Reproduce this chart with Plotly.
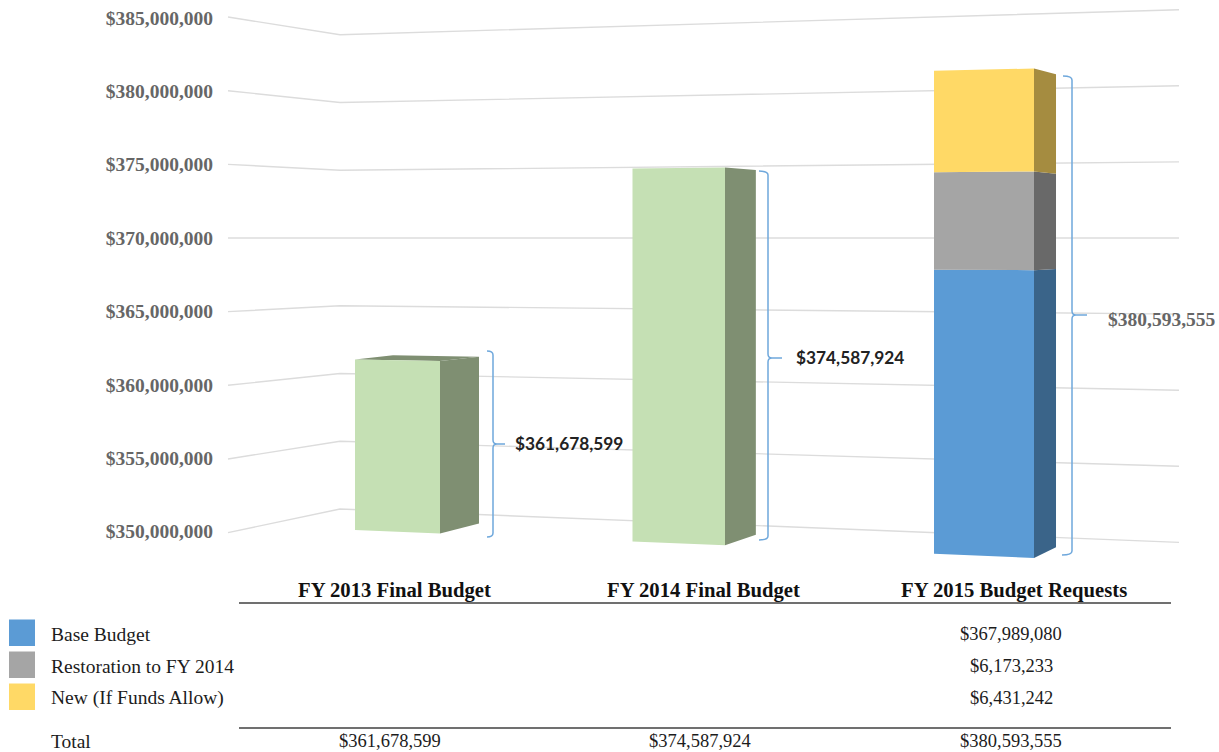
import plotly.graph_objects as go

# ---- data ----
categories = ["FY 2013 Final Budget", "FY 2014 Final Budget", "FY 2015 Budget Requests"]
final_budget = [361678599, 374587924, 0]
base_budget = [0, 0, 367989080]
restoration = [0, 0, 6173233]
new_funds = [0, 0, 6431242]
totals = [361678599, 374587924, 380593555]
series_names = ["Base Budget", "Restoration to FY 2014", "New (If Funds Allow)"]
tick_values = [350000000, 355000000, 360000000, 365000000, 370000000, 375000000, 380000000, 385000000]
axis_floor = 350000000

# ---- pseudo-3D projection: every depth plane scales values about a horizon value ----
HORIZON = 370e6
AXIS_K = 14.67          # px per $1M on the printed axis
W, H = 1219, 752
HORIZON_PX = 238


def to_axis(value, k):
    """Value on the printed axis at which `value` appears in a plane of scale k."""
    return HORIZON + (value - HORIZON) * k / AXIS_K


def k_bar(x, depth=0.0):
    return 14.6 + 0.00206 * (x - 355) - 0.585 * depth


def back_shift(x):
    return 39 - (x - 440) * 0.0286


WALL_X = [228, 340, 1179]
WALL_K = [14.73, 13.55, 15.22]
bar_edges = [(355, 440), (632.5, 725), (934, 1034)]

GREEN = ("#C5E0B4", "#7F8F72")
BLUE = ("#5B9BD5", "#3A6489")
GREY = ("#A5A5A5", "#696969")
YELLOW = ("#FFD966", "#A58C40")

fig = go.Figure()

# wall gridlines
for v in tick_values:
    fig.add_trace(go.Scatter(
        x=WALL_X, y=[to_axis(v, k) for k in WALL_K], mode="lines",
        line=dict(color="#DCDCDC", width=1.4), showlegend=False, hoverinfo="skip", yaxis="y"))


def add_segment(i, low, high, colors, name, amount):
    xl, xr = bar_edges[i]
    xb = xr + back_shift(xr)
    # side face
    fig.add_trace(go.Scatter(
        x=[xr, xb, xb, xr, xr],
        y=[to_axis(high, k_bar(xr)), to_axis(high, k_bar(xb, 1)), to_axis(low, k_bar(xb, 1)),
           to_axis(low, k_bar(xr)), to_axis(high, k_bar(xr))],
        mode="lines", fill="toself", fillcolor=colors[1], line=dict(width=0),
        showlegend=False, hoverinfo="skip", name=name + " side"))
    # front face
    fig.add_trace(go.Scatter(
        x=[xl, xr, xr, xl, xl],
        y=[to_axis(high, k_bar(xl)), to_axis(high, k_bar(xr)), to_axis(low, k_bar(xr)),
           to_axis(low, k_bar(xl)), to_axis(high, k_bar(xl))],
        mode="lines", fill="toself", fillcolor=colors[0], line=dict(width=0),
        showlegend=False, hoverinfo="text", text=f"{name}: ${amount:,.0f}", name=name))


def add_top(i, value, color):
    xl, xr = bar_edges[i]
    xb, xlb = xr + back_shift(xr), xl + back_shift(xr) - 1
    fig.add_trace(go.Scatter(
        x=[xl, xlb, xb, xr, xl],
        y=[to_axis(value, k_bar(xl)), to_axis(value, k_bar(xlb, 1)), to_axis(value, k_bar(xb, 1)),
           to_axis(value, k_bar(xr)), to_axis(value, k_bar(xl))],
        mode="lines", fill="toself", fillcolor=color, line=dict(width=0),
        showlegend=False, hoverinfo="skip"))


add_top(0, final_budget[0], GREEN[1])
add_segment(0, axis_floor, final_budget[0], GREEN, categories[0], final_budget[0])
add_segment(1, axis_floor, final_budget[1], GREEN, categories[1], final_budget[1])
running = 0
for name, vals, cols in zip(series_names, [base_budget, restoration, new_funds], [BLUE, GREY, YELLOW]):
    add_segment(2, max(running, axis_floor), running + vals[2], cols, name, vals[2])
    running += vals[2]

# ---- annotation geometry, in page pixels (x / y2 axes) ----
brace_paths = [
    "M 487 351 Q 493 351 493 355 L 493 440 Q 493 444 497 444 L 505 444 "
    "M 497 444 Q 493 444 493 448 L 493 533 Q 493 537 487 537",
    "M 759 171 Q 768 171 768 175 L 768 354 Q 768 358 772 358 L 782 358 "
    "M 772 358 Q 768 358 768 362 L 768 536 Q 768 540 759 540",
    "M 1063 76 Q 1072 76 1072 80 L 1072 311 Q 1072 315 1076 315 L 1087 315 "
    "M 1076 315 Q 1072 315 1072 319 L 1072 551 Q 1072 555 1062 555",
]
shapes = [dict(type="path", path=p, xref="x", yref="y2", line=dict(color="#6FA8DC", width=1.5))
          for p in brace_paths]

for y in (603, 728):
    shapes.append(dict(type="line", x0=239, x1=1171, y0=y, y1=y, xref="x", yref="y2",
                       line=dict(color="#404040", width=1.5)))

row_y = [634, 666, 698]
for y, col in zip(row_y, [BLUE[0], GREY[0], YELLOW[0]]):
    shapes.append(dict(type="rect", x0=9, x1=35, y0=y - 14.5, y1=y + 12, xref="x", yref="y2",
                       fillcolor=col, line=dict(width=0)))

SERIF = "Liberation Serif"
INK = "#1C1C1C"
annotations = []


def note(x, y, text, anchor="center", size=18.5, color=INK, family=SERIF, bold=False):
    annotations.append(dict(x=x, y=y, xref="x", yref="y2", text=f"<b>{text}</b>" if bold else text,
                            showarrow=False, xanchor=anchor, yanchor="middle",
                            font=dict(family=family, size=size, color=color)))


note(513, 443, f"${totals[0]:,.0f}", "left", 17.3, "#222222", "Lato", True)
note(794, 357, f"${totals[1]:,.0f}", "left", 17.3, "#222222", "Lato", True)
note(1106, 319, f"${totals[2]:,.0f}", "left", 19.5, "#666666", SERIF, True)

header_x = [394, 703.5, 1014]
total_x = [390, 700, 1011]
for x, c in zip(header_x, categories):
    note(x, 590, c, bold=True, color="#111111", size=20.7)
for y, name, vals in zip(row_y, series_names, [base_budget, restoration, new_funds]):
    note(49, y, name, "left", size=19.5)
    note(total_x[2], y, f"${vals[2]:,.0f}")
note(49, 741, "Total", "left", size=19.5)
for x, t in zip(total_x, totals):
    note(x, 741, f"${t:,.0f}")

fig.update_layout(
    width=W, height=H, margin=dict(l=0, r=0, t=0, b=0), autosize=False,
    paper_bgcolor="white", plot_bgcolor="white", showlegend=False,
    xaxis=dict(range=[0, W], visible=False, fixedrange=True),
    yaxis=dict(range=[HORIZON - (H - HORIZON_PX) / AXIS_K * 1e6, HORIZON + HORIZON_PX / AXIS_K * 1e6],
               anchor="free", position=228 / W, side="left", showgrid=False, zeroline=False,
               showline=False, tickmode="array", tickvals=tick_values, tickformat="$,.0f",
               ticks="outside", ticklen=11, tickcolor="rgba(0,0,0,0)",
               tickfont=dict(family=SERIF, size=19.5, color="#666666", weight="bold")),
    yaxis2=dict(range=[H, 0], overlaying="y", visible=False, anchor="x"),
    shapes=shapes, annotations=annotations,
)

fig.write_html("out.html", config={"displayModeBar": False},
               post_script="document.body.style.margin='0';document.documentElement.style.overflow='hidden';")
